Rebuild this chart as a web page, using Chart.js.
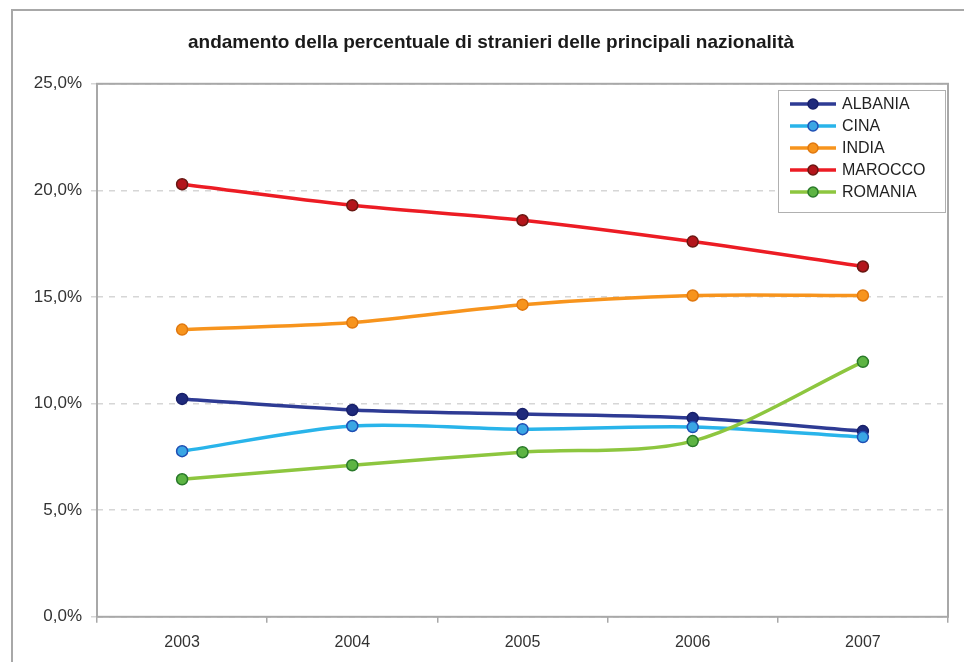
<!DOCTYPE html>
<html>
<head>
<meta charset="utf-8">
<script src="https://cdn.jsdelivr.net/npm/chart.js@4/dist/chart.umd.min.js"></script>
<style>
    html, body { margin: 0; padding: 0; background: #fff; }
    #wrap { width: 964px; height: 662px; position: relative; }
</style>
</head>
<body>
<div id="wrap"><canvas id="myChart" width="964" height="662"></canvas></div>
<script>
const years = ["2003", "2004", "2005", "2006", "2007"];
const albania = [10.22, 9.70, 9.51, 9.32, 8.71];
const cina = [7.77, 8.95, 8.80, 8.90, 8.43];
const india = [13.47, 13.80, 14.64, 15.07, 15.07];
const marocco = [20.29, 19.30, 18.60, 17.60, 16.43];
const romania = [6.45, 7.11, 7.72, 8.24, 11.96];
const yTicks = [0, 5, 10, 15, 20, 25];

function serie(label, data, line, fill, edge, order) {
    return {
        label: label,
        data: data,
        borderColor: line,
        backgroundColor: line,
        pointBackgroundColor: fill,
        pointBorderColor: edge,
        pointBorderWidth: 1.5,
        pointRadius: 5.5,
        borderWidth: 3.5,
        tension: 0.3,
        order: order
    };
}

// outer frame + plot area border
const framePlugin = {
    id: "frame",
    beforeDraw(chart) {
        const ctx = chart.ctx;
        ctx.save();
        ctx.strokeStyle = "#a8a8a8";
        ctx.lineWidth = 2;
        ctx.beginPath();
        ctx.moveTo(12, 662);
        ctx.lineTo(12, 10);
        ctx.lineTo(964, 10);
        ctx.stroke();
        ctx.restore();
    },
    afterDatasetsDraw(chart) {
        const a = chart.chartArea;
        const ctx = chart.ctx;
        ctx.save();
        ctx.strokeStyle = "#a8a8a8";
        ctx.lineWidth = 2;
        ctx.strokeRect(a.left, a.top, a.right - a.left, a.bottom - a.top);
        ctx.restore();
    }
};

// legend drawn inside the plot area, top right
const boxLegend = {
    id: "boxLegend",
    afterDraw(chart) {
        const ctx = chart.ctx;
        const x = 778, y = 90, w = 167, h = 122;
        ctx.save();
        ctx.fillStyle = "#fff";
        ctx.fillRect(x, y, w, h);
        ctx.strokeStyle = "#b0b0b0";
        ctx.lineWidth = 1;
        ctx.strokeRect(x + 0.5, y + 0.5, w, h);
        ctx.font = "16px 'Liberation Sans', Arial, sans-serif";
        ctx.textBaseline = "middle";
        chart.data.datasets.forEach((ds, i) => {
            const cy = y + 14 + i * 22;
            ctx.strokeStyle = ds.borderColor;
            ctx.lineWidth = 3.5;
            ctx.beginPath();
            ctx.moveTo(x + 12, cy);
            ctx.lineTo(x + 58, cy);
            ctx.stroke();
            ctx.beginPath();
            ctx.arc(x + 35, cy, 5, 0, Math.PI * 2);
            ctx.fillStyle = ds.pointBackgroundColor;
            ctx.fill();
            ctx.lineWidth = 1.5;
            ctx.strokeStyle = ds.pointBorderColor;
            ctx.stroke();
            ctx.fillStyle = "#222";
            ctx.fillText(ds.label, x + 64, cy + 1);
        });
        ctx.restore();
    }
};

const ctx = document.getElementById("myChart").getContext("2d");
new Chart(ctx, {
    type: "line",
    data: {
        labels: years,
        datasets: [
            serie("ALBANIA", albania, "#2e3b94", "#1f2a7c", "#18206a", 5),
            serie("CINA", cina, "#29b4ea", "#3aa6e4", "#1f4fb4", 4),
            serie("INDIA", india, "#f7941d", "#f7941d", "#e0780f", 3),
            serie("MAROCCO", marocco, "#ec1c24", "#b3151b", "#6a1712", 2),
            serie("ROMANIA", romania, "#8dc63f", "#5db443", "#2a7a2a", 1)
        ]
    },
    options: {
        responsive: false,
        animation: false,
        layout: { padding: { left: 34, right: 16, top: 0, bottom: 0 } },
        plugins: {
            legend: { display: false },
            tooltip: { enabled: false },
            title: {
                display: true,
                text: "andamento della percentuale di stranieri delle principali nazionalità",
                color: "#1a1a1a",
                font: { family: "'Liberation Sans', Arial, sans-serif", size: 19, weight: "bold" },
                padding: { top: 31, bottom: 30 }
            }
        },
        scales: {
            x: {
                offset: true,
                grid: {
                    offset: true,
                    drawOnChartArea: false,
                    drawTicks: true,
                    tickLength: 6,
                    color: "#a8a8a8",
                    lineWidth: 1.5
                },
                border: { display: false },
                ticks: {
                    color: "#333",
                    padding: 10,
                    font: { family: "'Liberation Sans', Arial, sans-serif", size: 16 }
                }
            },
            y: {
                min: 0,
                max: 25,
                afterFit(scale) { scale.width = 63; },
                afterBuildTicks(scale) { scale.ticks = yTicks.map(v => ({ value: v })); },
                grid: {
                    color: "#d6d6d6",
                    lineWidth: 1.5,
                    tickLength: 6,
                    tickBorderDash: [6, 6]
                },
                border: { display: false, dash: [6, 6] },
                ticks: {
                    color: "#333",
                    padding: 9,
                    font: { family: "'Liberation Sans', Arial, sans-serif", size: 17 },
                    callback: v => v.toFixed(1).replace(".", ",") + "%"
                }
            }
        }
    },
    plugins: [framePlugin, boxLegend]
});
</script>
</body>
</html>
